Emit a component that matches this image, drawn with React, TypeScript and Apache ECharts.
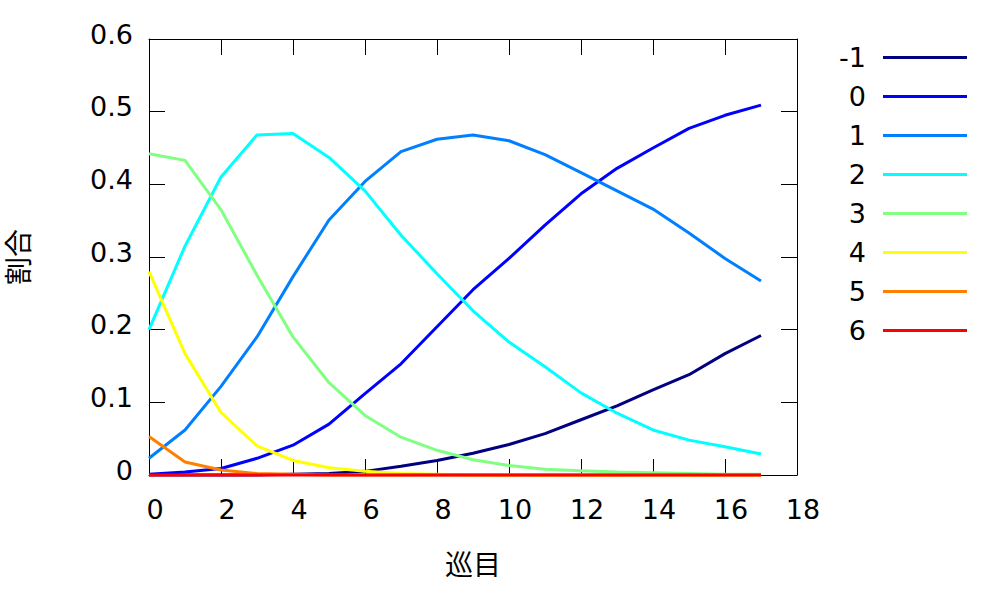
import React, { useEffect, useRef } from "react";
import * as echarts from "echarts";

const rounds = [0, 1, 2, 3, 4, 5, 6, 7, 8, 9, 10, 11, 12, 13, 14, 15, 16, 17];
const seriesNames = ["-1", "0", "1", "2", "3", "4", "5", "6"];
const seriesColors = ["#000080", "#0000ff", "#0080ff", "#00ffff", "#80ff80", "#ffff00", "#ff8000", "#ff0000"];

const sMinus1 = [0, 0, 0, 0, 0.001, 0.002, 0.005, 0.012, 0.02, 0.03, 0.042, 0.057, 0.076, 0.095, 0.117, 0.138, 0.167, 0.192];
const s0 = [0.001, 0.004, 0.009, 0.023, 0.041, 0.07, 0.112, 0.153, 0.204, 0.255, 0.298, 0.344, 0.387, 0.422, 0.45, 0.477, 0.495, 0.509];
const s1 = [0.023, 0.062, 0.122, 0.19, 0.273, 0.351, 0.404, 0.445, 0.462, 0.468, 0.46, 0.441, 0.416, 0.391, 0.366, 0.333, 0.298, 0.267];
const s2 = [0.2, 0.315, 0.41, 0.468, 0.47, 0.437, 0.391, 0.33, 0.277, 0.226, 0.183, 0.149, 0.113, 0.085, 0.062, 0.048, 0.039, 0.029];
const s3 = [0.442, 0.433, 0.365, 0.275, 0.19, 0.127, 0.082, 0.052, 0.034, 0.021, 0.013, 0.008, 0.006, 0.004, 0.003, 0.002, 0.001, 0.001];
const s4 = [0.28, 0.167, 0.086, 0.04, 0.02, 0.01, 0.005, 0.002, 0.001, 0, 0, 0, 0, 0, 0, 0, 0, 0];
const s5 = [0.053, 0.018, 0.007, 0.002, 0.001, 0, 0, 0, 0, 0, 0, 0, 0, 0, 0, 0, 0, 0];
const s6 = [0, 0, 0, 0, 0, 0, 0, 0, 0, 0, 0, 0, 0, 0, 0, 0, 0, 0];
const allValues = [sMinus1, s0, s1, s2, s3, s4, s5, s6];

const xTicks = [0, 2, 4, 6, 8, 10, 12, 14, 16, 18];
const yTickLabels = ["0", "0.1", "0.2", "0.3", "0.4", "0.5", "0.6"];
const xName = "巡目";
const yName = "割合";

const FONT = "'DejaVu Sans', 'Noto Sans CJK JP', sans-serif";

export default function App() {
  const ref = useRef<HTMLDivElement>(null);
  useEffect(() => {
    if (!ref.current) return;
    const chart = echarts.init(ref.current, undefined, { renderer: "svg" });
    const gridLeft = 149, gridTop = 39, gridRight = 203, gridBottom = 125;
    const tickCommon = { show: true, inside: true, length: 16, lineStyle: { color: "#000", width: 1 } };
    const lineCommon = { show: true, onZero: false, lineStyle: { color: "#000", width: 1 } };
    const option: any = {
      animation: false,
      backgroundColor: "#fff",
      grid: { left: gridLeft, top: gridTop, right: gridRight, bottom: gridBottom, show: false, containLabel: false, outerBoundsMode: "none" },
      xAxis: [
        {
          type: "value", min: 0, max: 18, interval: 2, position: "bottom",
          name: xName, nameLocation: "middle", nameGap: 76,
          nameTextStyle: { fontFamily: FONT, fontSize: 28, color: "#000" },
          axisLine: lineCommon,
          axisTick: tickCommon,
          axisLabel: { margin: 21, padding: [0, 0, 0, 12], fontFamily: FONT, fontSize: 27, color: "#000", formatter: (v: number) => (xTicks.includes(v) ? String(v) : "") },
          splitLine: { show: false },
        },
        {
          type: "value", min: 0, max: 18, interval: 2, position: "top",
          axisLine: lineCommon,
          axisTick: tickCommon, axisLabel: { show: false }, splitLine: { show: false },
        },
      ],
      yAxis: [
        {
          type: "value", min: 0, max: 0.6, interval: 0.1, position: "left",
          name: yName, nameLocation: "middle", nameGap: 116, nameRotate: 90,
          nameTextStyle: { fontFamily: FONT, fontSize: 28, color: "#000" },
          axisLine: lineCommon,
          axisTick: tickCommon,
          axisLabel: { margin: 16, verticalAlign: "bottom", lineHeight: 10, fontFamily: FONT, fontSize: 27, color: "#000", formatter: (v: number) => yTickLabels[Math.round(v * 10)] ?? "" },
          splitLine: { show: false },
        },
        {
          type: "value", min: 0, max: 0.6, interval: 0.1, position: "right",
          axisLine: lineCommon,
          axisTick: tickCommon, axisLabel: { show: false }, splitLine: { show: false },
        },
      ],
      legend: seriesNames.map((n, i) => ({
        data: [n],
        orient: "vertical",
        right: 33,
        top: 44 + i * 39,
        align: "right",
        icon: "rect",
        itemWidth: 84,
        itemHeight: 3,
        padding: 0,
        selectedMode: false,
        textStyle: { fontFamily: FONT, fontSize: 27, color: "#000", padding: [0, 12, 0, 0] },
      })),
      series: seriesNames.map((n, i) => ({
        name: n,
        type: "line",
        xAxisIndex: 0,
        yAxisIndex: 0,
        data: rounds.map((r, k) => [r, allValues[i][k]]),
        showSymbol: false,
        symbol: "none",
        color: seriesColors[i],
        lineStyle: { color: seriesColors[i], width: 3 },
        clip: false,
      })),
    };
    chart.setOption(option);
    return () => chart.dispose();
  }, []);
  return <div ref={ref} style={{ position: "fixed", left: 0, top: 0, width: 1000, height: 600 }} />;
}
